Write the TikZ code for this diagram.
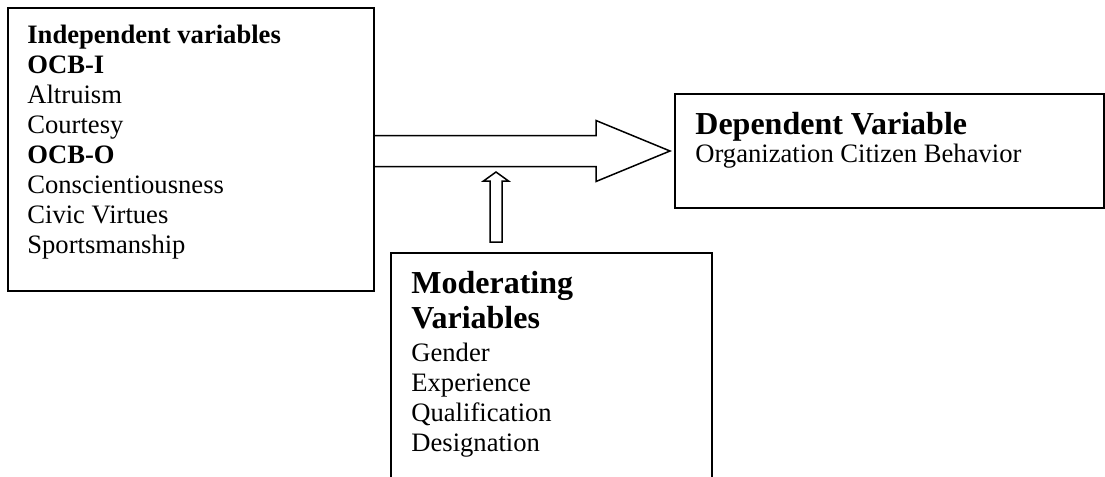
\documentclass[tikz,border=0pt]{standalone}
\usepackage{fontspec}
\setmainfont{Liberation Serif}
\usetikzlibrary{calc}
\begin{document}
\begin{tikzpicture}[x=0.5pt,y=-0.5pt,
  box/.style={draw,line width=1pt,inner sep=0pt,anchor=north west},
  body/.style={anchor=base west,align=left,inner sep=0pt,font=\fontsize{13.3}{15}\selectfont},
  head/.style={anchor=base west,align=left,inner sep=0pt,font=\fontsize{16}{17.5}\selectfont\bfseries},
  blockarrow/.style={draw,fill=white,line width=0.75pt,line join=miter}]
\useasboundingbox (0,0) rectangle (1105,477);
% boxes
\node[box,minimum width=183pt,minimum height=141.5pt] (L) at (7,7) {};
\node[box,minimum width=214.5pt,minimum height=57pt] (R) at (674,93) {};
\node[box,minimum width=160.5pt,minimum height=119pt] (M) at (390,252) {};
% texts (base anchor = baseline of the last line)
\node[body] (Ltext) at ($(L.north west)+(20,246)$) {\textbf{Independent variables}\\\textbf{OCB-I}\\Altruism\\Courtesy\\\textbf{OCB-O}\\Conscientiousness\\Civic Virtues\\Sportsmanship};
\node[head] (Rhead) at ($(R.north west)+(21,41)$) {Dependent Variable};
\node[body] (Rbody) at ($(R.north west)+(21,69)$) {Organization Citizen Behavior};
\node[head] (Mhead) at ($(M.north west)+(21,76.3)$) {Moderating\\Variables};
\node[body] (Mbody) at ($(M.north west)+(21,199)$) {Gender\\Experience\\Qualification\\Designation};
% big block arrow
\coordinate (s) at (L.east |- R.west);
\coordinate (t) at ($(R.west)+(-4,0)$);
\draw[blockarrow] ($(s)+(0,-15.5)$) -- ($(t)+(-74,-15.5)$) -- ($(t)+(-74,-30.5)$) -- (t)
  -- ($(t)+(-74,30.5)$) -- ($(t)+(-74,15.5)$) -- ($(s)+(0,15.5)$);
% small up arrow
\coordinate (ub) at ($(M.north west)+(106,-10)$);
\coordinate (ut) at ($(M.north west)+(106,-80)$);
\draw[blockarrow] ($(ub)+(-6,0)$) -- ($(ut)+(-6,9)$) -- ($(ut)+(-12.5,9)$) -- (ut)
  -- ($(ut)+(12.5,9)$) -- ($(ut)+(6,9)$) -- ($(ub)+(6,0)$) -- cycle;
\end{tikzpicture}
\end{document}
